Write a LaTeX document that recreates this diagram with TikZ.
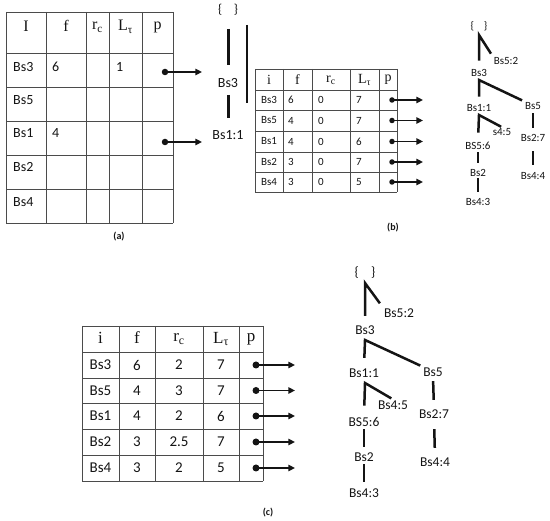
\documentclass[tikz,border=0pt]{standalone}
\usepackage{fontspec}
\setmainfont{Carlito}
\newfontfamily\hdfont{Liberation Serif}
\usetikzlibrary{arrows.meta,positioning,calc}
\definecolor{rulegray}{RGB}{75,75,75}
\definecolor{inkblk}{RGB}{20,20,20}
\tikzset{
  tabrule/.style={draw=rulegray, line width=0.9pt},
  ptr/.style={-{Triangle[length=2.3mm,width=2.2mm]}, inkblk, line width=1.7pt},
  pdot/.style={circle, fill=inkblk, inner sep=0pt, minimum size=6.5pt},
  tline/.style={inkblk, line width=2.5pt},
  lbl/.style={inner sep=1pt, text=inkblk},
  hdA/.style={lbl, font=\hdfont\fontsize{16}{18}\selectfont},
  hdB/.style={lbl, font=\hdfont\fontsize{14}{16}\selectfont},
  hdC/.style={lbl, font=\hdfont\fontsize{17}{19}\selectfont},
  bodyA/.style={lbl, font=\fontsize{14}{16}\selectfont},
  bodyB/.style={lbl, font=\fontsize{11}{13}\selectfont},
  bodyC/.style={lbl, font=\fontsize{15}{17}\selectfont},
  treeB/.style={lbl, font=\fontsize{11}{13}\selectfont},
  treeC/.style={lbl, font=\fontsize{13.5}{15}\selectfont},
  subcap/.style={lbl, font=\bfseries\fontsize{10}{11}\selectfont},
}
\newcommand{\rootset}{\{\hspace{0.9em}\}}

\begin{document}
\begin{tikzpicture}[x=1pt, y=-1pt]
  \useasboundingbox (0,0) rectangle (550,521);

  % (a) first table
  \foreach \x in {6,46,86,109,142,173} \draw[tabrule] (\x,12) -- (\x,223);
  \foreach \y in {12,53,87,121,155,189,223} \draw[tabrule] (6,\y) -- (173,\y);
  \node[hdA] (ahi) at (26,26) {I};
  \node[hdA] (ahf) at (66,26) {f};
  \node[hdA] (ahr) at (97.5,27) {r\textsubscript{c}};
  \node[hdA] (ahl) at (125.5,27) {L\textsubscript{τ}};
  \node[hdA] (ahp) at (157.5,27) {p};
  \foreach \n/\y [count=\k] in {Bs3/67,Bs5/100,Bs1/133,Bs2/167,Bs4/202}
    \node[bodyA, anchor=west] (ai\k) at (12,\y) {\n};
  \node[bodyA, anchor=west] (af1) at (51,67) {6};
  \node[bodyA, anchor=west] (al1) at (115,67) {1};
  \node[bodyA, anchor=west] (af3) at (51,133) {4};
  \foreach \y [count=\k] in {72,142} {
    \node[pdot] (adot\k) at (165,\y) {};
    \coordinate (atip\k) at (202,\y);
    \draw[ptr] (adot\k.center) -- (atip\k);
  }
  \node[subcap] (capa) at (119,237) {(a)};

  % (b) partial tree
  \node[lbl, font=\fontsize{13}{15}\selectfont] (lroot) at (228,10) {\rootset};
  \node[bodyA] (lbs3) at (228,83) {Bs3};
  \node[bodyA] (lbs1) at (228,135) {Bs1:1};
  \draw[tline, line width=3pt, shorten <=12pt, shorten >=12pt] (lroot.south) -- (lbs3.north);
  \draw[tline, line width=3pt, shorten <=6pt, shorten >=11pt] (lbs3.south) -- (lbs1.north);
  \draw[inkblk, line width=1.1pt] (247,25) -- (247,103);

  % (b) table
  \foreach \x in {255,283,312,350,379,397} \draw[tabrule] (\x,69) -- (\x,192);
  \foreach \y in {69,90,110,131,152,172,192} \draw[tabrule] (255,\y) -- (397,\y);
  \node[hdB] (bhi) at (269,80) {i};
  \node[hdB] (bhf) at (297.5,80) {f};
  \node[hdB] (bhr) at (331,80) {r\textsubscript{c}};
  \node[hdB] (bhl) at (364.5,80) {L\textsubscript{τ}};
  \node[hdB] (bhp) at (388,80) {p};
  \foreach \n/\f/\r/\l/\y [count=\k] in {Bs3/6/0/7/100,Bs5/4/0/7/120.5,Bs1/4/0/6/141.5,Bs2/3/0/7/162,Bs4/3/0/5/182} {
    \node[bodyB, anchor=west] (bi\k) at (260,\y) {\n};
    \node[bodyB, anchor=west] (bf\k) at (287,\y) {\f};
    \node[bodyB, anchor=west] (br\k) at (317,\y) {\r};
    \node[bodyB, anchor=west] (bl\k) at (355,\y) {\l};
    \node[pdot, minimum size=5.5pt] (bdot\k) at (392,\y) {};
    \coordinate (btip\k) at (423,\y);
    \draw[ptr] (bdot\k.center) -- (btip\k);
  }
  \node[subcap] (capb) at (393,228) {(b)};

  % (b) tree
  \node[treeB] (rb0) at (479,26) {\rootset};
  \node[treeB] (rb52) at (506,61) {Bs5:2};
  \node[treeB] (rb3) at (479,73) {Bs3};
  \node[treeB] (rb11) at (479,108) {Bs1:1};
  \node[treeB] (rb5) at (533,106) {Bs5};
  \node[treeB] (rb45) at (502,132) {s4:5};
  \node[treeB] (rb56) at (478,146) {BS5:6};
  \node[treeB] (rb2) at (478,173) {Bs2};
  \node[treeB] (rb43) at (478,202) {Bs4:3};
  \node[treeB] (rb27) at (533,138) {Bs2:7};
  \node[treeB] (rb44) at (533,176) {Bs4:4};
  \coordinate (jb0) at (479,35);
  \coordinate (jb3) at (479,80);
  \coordinate (jb11) at (479,115);
  \draw[tline, shorten <=7.5pt, shorten >=3pt] (rb3.north) -- (jb0) -- (rb52.north west);
  \draw[tline, shorten <=6.5pt, shorten >=2pt] (rb11.north) -- (jb3) -- (rb5.north west);
  \draw[tline, shorten <=8.5pt, shorten >=1pt] (rb56.north) -- (jb11) -- (rb45.north);
  \draw[tline, shorten <=1.5pt, shorten >=5.5pt] (rb56.south) -- (rb2.north);
  \draw[tline, shorten <=0.5pt, shorten >=5.5pt] (rb2.south) -- (rb43.north);
  \draw[tline, shorten <=2.5pt, shorten >=5.5pt] (rb5.south) -- (rb27.north);
  \draw[tline, shorten <=8.5pt, shorten >=6.5pt] (rb27.south) -- (rb44.north);

  % (c) table
  \foreach \x in {82,119,155,203,239,263} \draw[tabrule] (\x,326) -- (\x,481);
  \foreach \y in {326,352,378,403,429,455,481} \draw[tabrule] (82,\y) -- (263,\y);
  \node[hdC] (chi) at (100.5,338) {i};
  \node[hdC] (chf) at (137,338) {f};
  \node[hdC] (chr) at (179,339) {r\textsubscript{c}};
  \node[hdC] (chl) at (221,339) {L\textsubscript{τ}};
  \node[hdC] (chp) at (251,339) {p};
  \foreach \n/\f/\r/\l/\y [count=\k] in {Bs3/6/2/7/365,Bs5/4/3/7/390.5,Bs1/4/2/6/416,Bs2/3/2.5/7/442,Bs4/3/2/5/468} {
    \node[bodyC] (ci\k) at (100.5,\y) {\n};
    \node[bodyC] (cf\k) at (137,\y) {\f};
    \node[bodyC] (cr\k) at (179,\y) {\r};
    \node[bodyC] (cl\k) at (221,\y) {\l};
    \node[pdot, minimum size=7pt] (cdot\k) at (256,\y) {};
    \coordinate (ctip\k) at (295,\y);
    \draw[ptr] (cdot\k.center) -- (ctip\k);
  }
  \node[subcap] (capc) at (268,513) {(c)};

  % (c) tree
  \node[treeC] (rc0) at (365,273) {\rootset};
  \node[treeC] (rc52) at (399,313) {Bs5:2};
  \node[treeC] (rc3) at (365,330) {Bs3};
  \node[treeC] (rc11) at (364,373) {Bs1:1};
  \node[treeC] (rc5) at (433,372) {Bs5};
  \node[treeC] (rc45) at (393,405) {Bs4:5};
  \node[treeC] (rc56) at (364,422) {BS5:6};
  \node[treeC] (rc2) at (364,457) {Bs2};
  \node[treeC] (rc43) at (364,493) {Bs4:3};
  \node[treeC] (rc27) at (434,414) {Bs2:7};
  \node[treeC] (rc44) at (435,462) {Bs4:4};
  \coordinate (jc0) at (365,283);
  \coordinate (jc3) at (365,340);
  \coordinate (jc11) at (365,383);
  \draw[tline, shorten <=8.5pt, shorten >=5pt] (rc3.north) -- (jc0) -- (rc52.north west);
  \draw[tline, shorten <=9.5pt, shorten >=2pt] (rc11.north) -- (jc3) -- (rc5.north west);
  \draw[tline, shorten <=10.5pt, shorten >=2pt] (rc56.north) -- (jc11) -- (rc45.north);
  \draw[tline, shorten <=1.5pt, shorten >=4.5pt] (rc56.south) -- (rc2.north);
  \draw[tline, shorten <=1.5pt, shorten >=5.5pt] (rc2.south) -- (rc43.north);
  \draw[tline, shorten <=3.5pt, shorten >=8.5pt] (rc5.south) -- (rc27.north);
  \draw[tline, shorten <=9.5pt, shorten >=8.5pt] (rc27.south) -- (rc44.north);
\end{tikzpicture}
\end{document}
